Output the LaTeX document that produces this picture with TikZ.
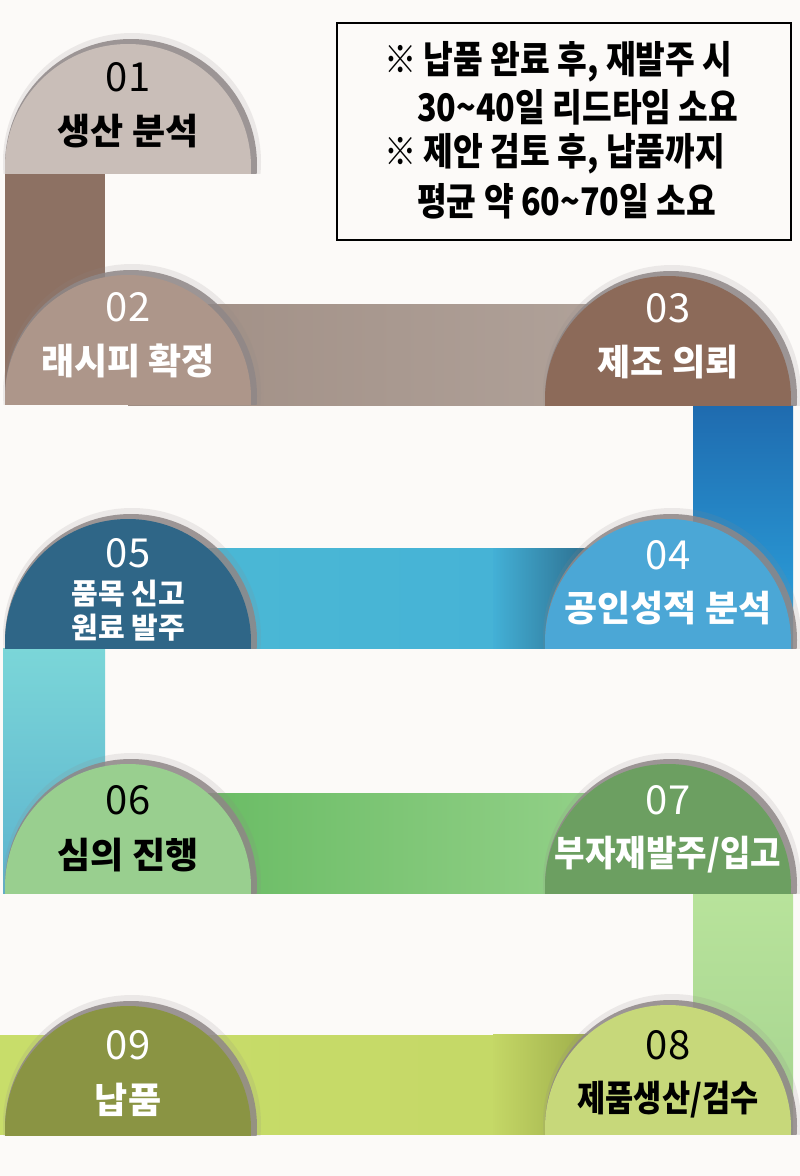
\documentclass[tikz,border=0pt]{standalone}
\usepackage{fontspec}
\usepackage{graphicx}
\setmainfont{Noto Sans CJK KR}
\usetikzlibrary{calc}
\definecolor{bg}{HTML}{FCFAF8}
\definecolor{shadowgray}{HTML}{8F8787}
\definecolor{c1}{HTML}{C9BEB8}
\definecolor{c2}{HTML}{AD968A}
\definecolor{c3}{HTML}{8C6A59}
\definecolor{c4}{HTML}{4BA7D6}
\definecolor{c5}{HTML}{2F6687}
\definecolor{c6}{HTML}{99CF8F}
\definecolor{c7}{HTML}{6C9F61}
\definecolor{c8}{HTML}{C7D87A}
\definecolor{c9}{HTML}{8A9443}
\definecolor{ba}{HTML}{8D7163}
\definecolor{bba}{HTML}{A08E84}
\definecolor{bbb}{HTML}{B2A49C}
\definecolor{bca}{HTML}{1F6BAF}
\definecolor{bcb}{HTML}{2CA5DF}
\definecolor{bda}{HTML}{4CB9D5}
\definecolor{bdb}{HTML}{43B0D6}
\definecolor{bdc}{HTML}{2B6888}
\definecolor{bea}{HTML}{7BD6D8}
\definecolor{beb}{HTML}{5CB3CE}
\definecolor{bfa}{HTML}{62B85E}
\definecolor{bfb}{HTML}{84D67E}
\definecolor{bfc}{HTML}{9AD48E}
\definecolor{bga}{HTML}{B8E39B}
\definecolor{bgb}{HTML}{A5D38F}
\definecolor{bha}{HTML}{C8DD6A}
\definecolor{bhb}{HTML}{C4D766}
\definecolor{bhc}{HTML}{9BAA48}
\newcommand\stepdisk[2]{%
  \begin{scope}
    \clip ($(#1)+(-140,0)$) rectangle ($(#1)+(140,-150)$);
    \fill[shadowgray, opacity=0.15] ($(#1)+(4,-11)$) circle (129pt);
    \fill[shadowgray, opacity=0.85] ($(#1)+(3,-8)$) circle (126pt);
    \fill[#2] ($(#1)+(0,-6)$) circle (123pt);
  \end{scope}}
\tikzset{
  numtext/.style={font=\fontsize{40}{40}\selectfont, inner sep=0pt},
  labtext/.style={font=\bfseries\fontsize{36}{36}\selectfont, inner sep=0pt},
  smalltext/.style={font=\bfseries\fontsize{29}{34}\selectfont, inner sep=0pt, align=center},
  notetext/.style={font=\bfseries\fontsize{38}{38}\selectfont, anchor=west, inner sep=0pt},
}
\begin{document}
\begin{tikzpicture}[x=1pt,y=-1pt]
\useasboundingbox (0,0) rectangle (800,1176);
\fill[bg] (0,0) rectangle (800,1176);
\coordinate (p1) at (128,173);
\coordinate (p2) at (128,404);
\coordinate (p3) at (668,405);
\coordinate (p4) at (668,648);
\coordinate (p5) at (128,648);
\coordinate (p6) at (128,893);
\coordinate (p7) at (668,893);
\coordinate (p8) at (668,1134);
\coordinate (p9) at (128,1135);
% connectors
\fill[ba] ($(p1)+(-123,0)$) rectangle ($(p2)+(-23,0)$);
\shade[left color=bba, right color=bbb] ($(p2)+(0,-100)$) rectangle (p3);
\shade[top color=bca, bottom color=bcb] ($(p3)+(25,0)$) rectangle ($(p4)+(125,0)$);
\shade[left color=bda, right color=bdb] ($(p5)+(0,-100)$) rectangle (p4);
\shade[left color=bdb, right color=bdc] ($(p4)+(-175,-100)$) rectangle ($(p4)+(-70,0)$);
\shade[top color=bea, bottom color=beb] ($(p5)+(-125,0)$) rectangle ($(p6)+(-23,0)$);
\shade[left color=bfa, middle color=bfb, right color=bfc] ($(p6)+(0,-100)$) rectangle (p7);
\shade[top color=bga, bottom color=bgb] ($(p7)+(25,0)$) rectangle ($(p8)+(125,0)$);
\shade[left color=bha, right color=bhb] ($(p9)+(-128,-100)$) rectangle (p8);
\shade[left color=bhb, right color=bhc] ($(p8)+(-175,-100)$) rectangle ($(p8)+(-70,0)$);
% disks
\stepdisk{p1}{c1}
\stepdisk{p2}{c2}
\stepdisk{p3}{c3}
\stepdisk{p4}{c4}
\stepdisk{p5}{c5}
\stepdisk{p6}{c6}
\stepdisk{p7}{c7}
\stepdisk{p8}{c8}
\stepdisk{p9}{c9}
% texts
\node[numtext, text=black] (n1) at ($(p1)+(0,-96)$) {01};
\node[labtext, text=black] (s1) at ($(p1)+(0,-42)$) {생산 분석};
\node[numtext, text=white] (n2) at ($(p2)+(0,-97)$) {02};
\node[labtext, text=white] (s2) at ($(p2)+(0,-43)$) {래시피 확정};
\node[numtext, text=white] (n3) at ($(p3)+(0,-97)$) {03};
\node[labtext, text=white] (s3) at ($(p3)+(0,-43)$) {제조 의뢰};
\node[numtext, text=white] (n4) at ($(p4)+(0,-93)$) {04};
\node[labtext, text=white] (s4) at ($(p4)+(0,-40)$) {공인성적 분석};
\node[numtext, text=white] (n5) at ($(p5)+(0,-95)$) {05};
\node[smalltext, text=white] (s5) at ($(p5)+(0,-37)$) {품목 신고\\원료 발주};
\node[numtext, text=black] (n6) at ($(p6)+(0,-93)$) {06};
\node[labtext, text=black] (s6) at ($(p6)+(0,-38)$) {심의 진행};
\node[numtext, text=white] (n7) at ($(p7)+(0,-93)$) {07};
\node[labtext, text=white] (s7) at ($(p7)+(0,-38)$) {\scalebox{0.92}[1]{부자재발주/입고}};
\node[numtext, text=black] (n8) at ($(p8)+(0,-89)$) {08};
\node[labtext, text=black] (s8) at ($(p8)+(0,-34)$) {\scalebox{0.85}[1]{제품생산/검수}};
\node[numtext, text=white] (n9) at ($(p9)+(0,-90)$) {09};
\node[labtext, text=white] (s9) at ($(p9)+(0,-35)$) {납품};
% note box
\node[draw=black, line width=2pt, fill=bg, minimum width=454pt, minimum height=217pt, inner sep=0pt] (note) at (564,131.5) {};
\node[notetext] (t1) at ($(note.north west)+(48,40)$) {\scalebox{0.85}[1]{※ 납품 완료 후, 재발주 시}};
\node[notetext] (t2) at ($(note.north west)+(81,85)$) {\scalebox{0.85}[1]{30{\char"007E}40일 리드타임 소요}};
\node[notetext] (t3) at ($(note.north west)+(48,132)$) {\scalebox{0.85}[1]{※ 제안 검토 후, 납품까지}};
\node[notetext] (t4) at ($(note.north west)+(81,179)$) {\scalebox{0.85}[1]{평균 약 60{\char"007E}70일 소요}};
\end{tikzpicture}
\end{document}
